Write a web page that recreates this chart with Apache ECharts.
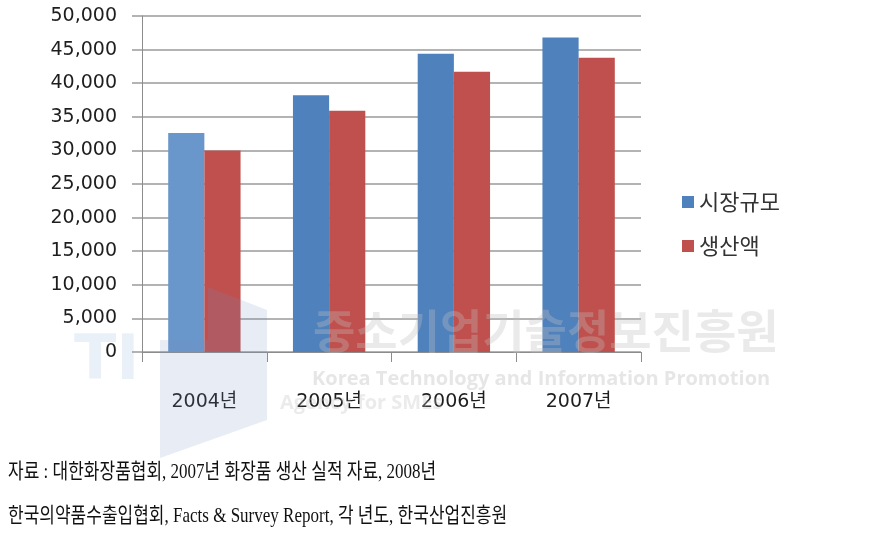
<!DOCTYPE html>
<html>
<head>
<meta charset="utf-8">
<script src="https://cdn.jsdelivr.net/npm/echarts@6/dist/echarts.min.js"></script>
<style>
html,body{margin:0;padding:0;background:#fff;}
#chart{width:869px;height:544px;}
</style>
</head>
<body>
<div id="chart"></div>
<script>
// ---- data ----
const categories = ['2004년', '2005년', '2006년', '2007년'];
const seriesNames = ['시장규모', '생산액'];
const marketSize = [32600, 38200, 44400, 46800];
const production = [30000, 35900, 41700, 43800];
const yTicks = { min: 0, max: 50000, interval: 5000 };
const sourceLine1 = '자료 : 대한화장품협회, 2007년 화장품 생산 실적 자료, 2008년';
const sourceLine2 = '한국의약품수출입협회, Facts & Survey Report, 각 년도, 한국산업진흥원';
const watermarkKo = '중소기업기술정보진흥원';
const watermarkEn1 = 'Korea Technology and Information Promotion';
const watermarkEn2 = 'Agency for SMEs';

const chart = echarts.init(document.getElementById('chart'), null, { renderer: 'canvas' });
const labelFont = 'DejaVu Sans, Noto Sans CJK KR, sans-serif';
const cjk = 'Noto Sans CJK KR, sans-serif';
const srcFont = '21px Liberation Serif, Noto Sans CJK KR, serif';

chart.setOption({
  backgroundColor: '#ffffff',
  animation: false,
  grid: { left: 142, right: 228, top: 16, bottom: 192, containLabel: false },
  legend: {
    orient: 'vertical',
    left: 677,
    top: 186,
    itemWidth: 12,
    itemHeight: 12,
    itemGap: 22,
    icon: 'rect',
    textStyle: { fontFamily: cjk, fontSize: 22, color: '#333' },
    data: seriesNames
  },
  xAxis: {
    type: 'category',
    data: categories,
    axisLine: { lineStyle: { color: '#8c8c8c', width: 1 } },
    axisTick: { show: true, length: 10, lineStyle: { color: '#8c8c8c' } },
    axisLabel: { margin: 41, fontFamily: labelFont, fontSize: 19, color: '#1e1e1e' }
  },
  yAxis: {
    type: 'value',
    min: yTicks.min,
    max: yTicks.max,
    interval: yTicks.interval,
    axisLine: { show: true, lineStyle: { color: '#8c8c8c', width: 1 } },
    axisTick: { show: true, length: 10, lineStyle: { color: '#9a9a9a', width: 1.5 } },
    splitLine: { lineStyle: { color: '#9a9a9a', width: 1.5 } },
    axisLabel: {
      margin: 25,
      fontFamily: labelFont,
      fontSize: 19,
      color: '#1e1e1e',
      formatter: v => v.toLocaleString('en-US')
    }
  },
  series: [
    {
      name: seriesNames[0],
      type: 'bar',
      barGap: '0%',
      barCategoryGap: '42%',
      itemStyle: { color: '#4f81bd' },
      data: marketSize.map((v, i) => i === 0 ? { value: v, itemStyle: { color: '#6a97cb' } } : v)
    },
    {
      name: seriesNames[1],
      type: 'bar',
      barGap: '0%',
      barCategoryGap: '42%',
      itemStyle: { color: '#c0504d' },
      data: production
    }
  ],
  graphic: [
    { type: 'text', x: 313, y: 308, z: 50, silent: true,
      style: { text: watermarkKo, font: 'bold 46px Noto Sans CJK KR, sans-serif', fill: 'rgba(190,190,190,0.33)' } },
    { type: 'text', left: 312, top: 369, z: 50, silent: true,
      style: { text: watermarkEn1, font: 'bold 20px Open Sans, sans-serif', fill: 'rgba(190,190,190,0.38)' } },
    { type: 'text', left: 280, top: 393, z: 50, silent: true,
      style: { text: watermarkEn2, font: 'bold 20px Open Sans, sans-serif', fill: 'rgba(190,190,190,0.3)' } },
    { type: 'polygon', z: 60, silent: true,
      shape: { points: [[208, 287], [267, 310], [267, 420], [160, 458], [160, 340], [208, 340]] },
      style: { fill: 'rgba(110,145,195,0.17)' } },
    { type: 'text', left: 74, top: 332, z: 60, silent: true,
      style: { text: 'TI', font: 'bold 62px DejaVu Sans, sans-serif', fill: 'rgba(120,160,210,0.16)' } },
    { type: 'text', x: 8, y: 472, scaleX: 0.81, z: 70, silent: true,
      style: { text: sourceLine1, font: srcFont, fill: '#111', textVerticalAlign: 'middle' } },
    { type: 'text', x: 8, y: 516, scaleX: 0.81, z: 70, silent: true,
      style: { text: sourceLine2, font: srcFont, fill: '#111', textVerticalAlign: 'middle' } }
  ]
});
</script>
</body>
</html>
